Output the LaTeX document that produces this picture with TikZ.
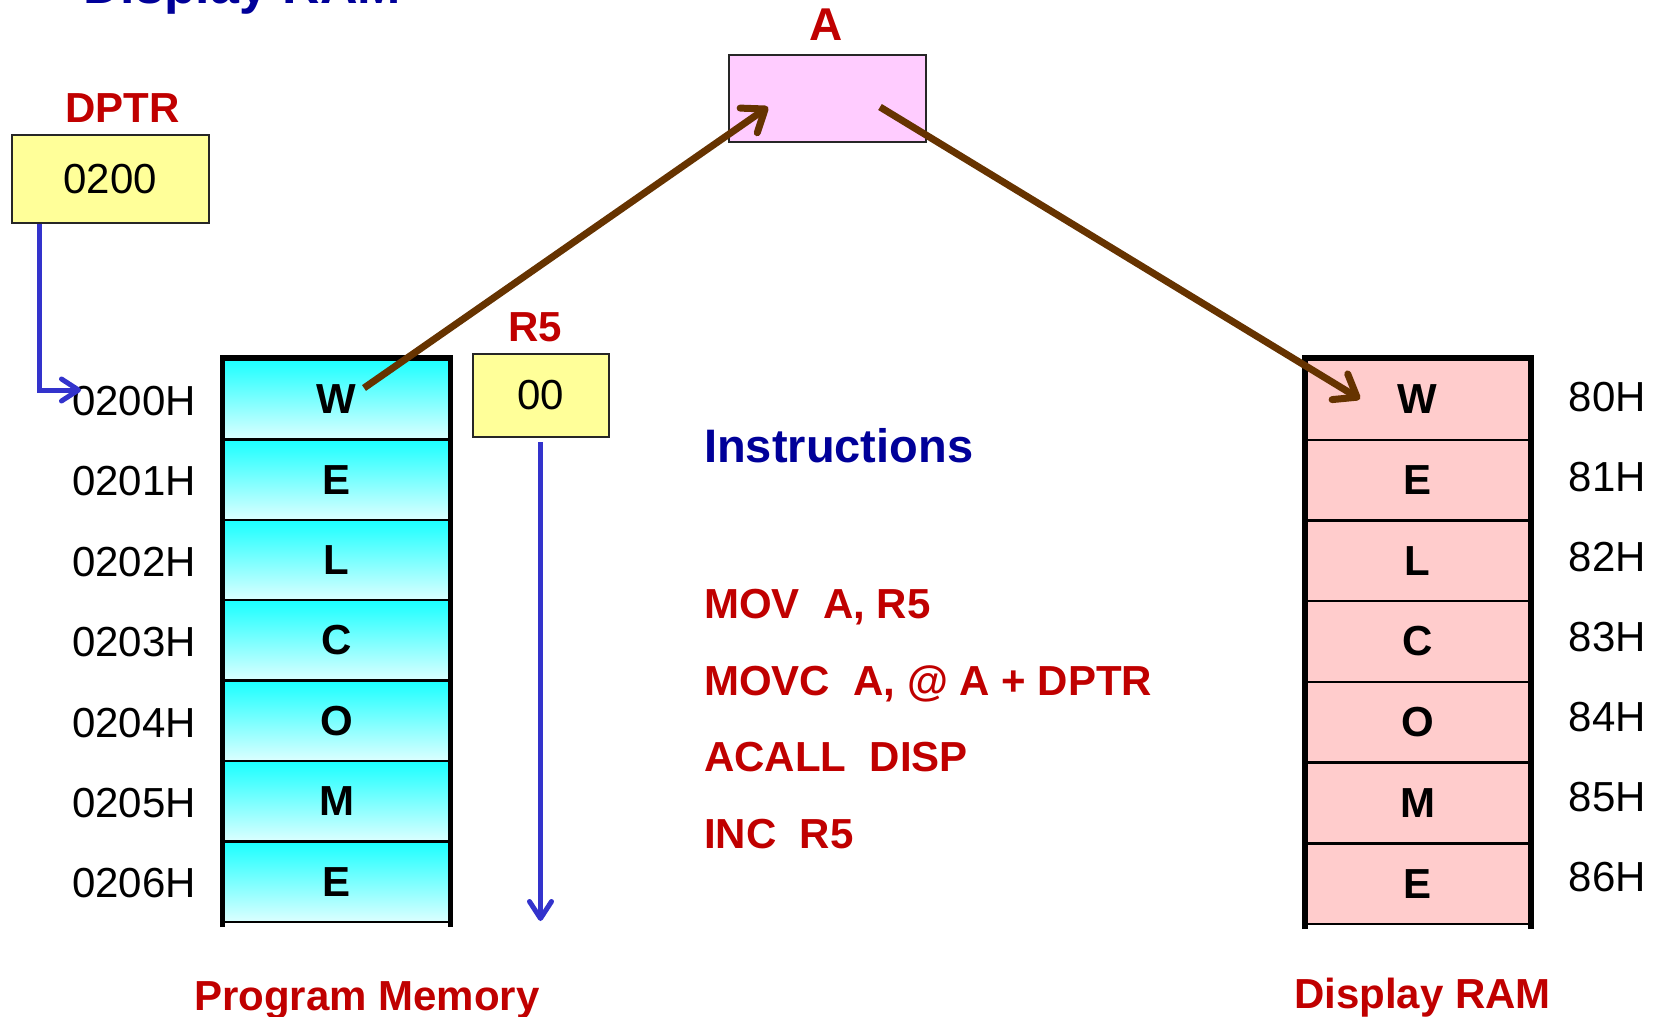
\documentclass[tikz,border=0pt]{standalone}
\usepackage{fontspec}
\setmainfont{Liberation Sans}
\usetikzlibrary{arrows.meta}
\definecolor{redtxt}{HTML}{C00000}
\definecolor{bluetxt}{HTML}{000099}
\definecolor{arrowblue}{HTML}{3333CC}
\definecolor{brownarr}{HTML}{663300}
\definecolor{cyantop}{HTML}{1AFFFF}
\definecolor{cyanbot}{HTML}{DCFFFF}
\definecolor{pinkA}{HTML}{FFCCFF}
\definecolor{yellowbox}{HTML}{FFFF99}
\definecolor{ramfill}{HTML}{FFCCCC}
\newcommand{\fsz}[1]{\fontsize{#1}{#1}\selectfont}
\begin{document}
\begin{tikzpicture}[x=1pt,y=-1pt,
  redlbl/.style={inner sep=0pt, text=redtxt, font=\fsz{42}\bfseries},
  bluelbl/.style={inner sep=0pt, text=bluetxt, font=\fsz{47}\bfseries},
  addr/.style={inner sep=0pt, font=\fsz{42}},
  regbox/.style={draw=black!85, line width=2pt, inner sep=0pt, font=\fsz{42}},
  pmcell/.style={draw=black, line width=2.5pt, top color=cyantop, bottom color=cyanbot,
    minimum width=225.8pt, minimum height=80.4pt, inner sep=0pt, font=\fsz{42}\bfseries},
  ramcell/.style={draw=black, line width=2.5pt, fill=ramfill,
    minimum width=223.5pt, minimum height=80.7pt, inner sep=0pt, font=\fsz{42}\bfseries},
  colframe/.style={line width=5.5pt, line join=miter},
  bluearr/.style={draw=arrowblue, line width=5pt, -{Straight Barb[length=17pt,width=22pt,round]}},
  brownarrow/.style={draw=brownarr, line width=7pt, -{Straight Barb[length=20pt,width=30pt,round]}}
]
\useasboundingbox (0,0) rectangle (1654,1017);

% partially cut title
\node[bluelbl, font=\fsz{52}\bfseries, anchor=base west] (title) at (83,3) {Display RAM};

% DPTR
\node[redlbl] (dptrlbl) at (122.5,108) {DPTR};
\node[regbox, fill=yellowbox, minimum width=197.4pt, minimum height=87.6pt] (dptr) at (110.3,179) {0200};

% A register
\node[redlbl, font=\fsz{46}\bfseries] (albl) at (826.5,25) {A};
\node[regbox, fill=pinkA, minimum width=197pt, minimum height=87pt] (areg) at (827.5,98.5) {};

% R5
\node[redlbl] (r5lbl) at (535,327) {R5};
\node[regbox, fill=yellowbox, minimum width=136pt, minimum height=83pt] (r5) at (540.5,395.5) {00};

% Program memory
\foreach \ch [count=\i from 0] in {W,E,L,C,O,M,E} {
  \node[pmcell] (pm\i) at (336.5,{399.2+80.4*\i}) {\ch};
  \node[addr, anchor=east] (pa\i) at (196,{401+80.4*\i}) {020\i H};
}
\draw[colframe] ([yshift=-4pt]pm6.south west) -- (pm0.north west) -- (pm0.north east) -- ([yshift=-4pt]pm6.south east);

% Display RAM
\foreach \ch [count=\i from 0] in {W,E,L,C,O,M,E} {
  \node[ramcell] (dr\i) at (1417.75,{399.4+80.7*\i}) {\ch};
  \node[addr, anchor=west] (da\i) at (1568.5,{397+80*\i}) {8\i H};
}
\draw[colframe] ([yshift=-4pt]dr6.south west) -- (dr0.north west) -- (dr0.north east) -- ([yshift=-4pt]dr6.south east);

% Instructions
\node[bluelbl, anchor=base west] (instr) at (704,462) {Instructions};
\node[redlbl, anchor=base west] (i1) at (704,618) {MOV\ \ A, R5};
\node[redlbl, anchor=base west] (i2) at (704,695) {MOVC\ \ A, @ A + DPTR};
\node[redlbl, anchor=base west] (i3) at (704,771) {ACALL\ \ DISP};
\node[redlbl, anchor=base west] (i4) at (704,848) {INC\ \ R5};

% Captions
\node[redlbl, anchor=base] (pmcap) at (367,1010) {Program Memory};
\node[redlbl, anchor=base] (drcap) at (1422.5,1008) {Display RAM};

% connectors
\coordinate (pmentry) at (81,390);
\draw[bluearr] ([xshift=28.4pt]dptr.south west) |- (pmentry);
\coordinate (r5end) at (540.5,921);
\draw[bluearr] ([yshift=-4pt]r5.south) -- (r5end);

\coordinate (wsrc) at (364,388);
\coordinate (ain) at (768,107);
\coordinate (aout) at (880,107);
\coordinate (wdst) at (1360,399);
\draw[brownarrow] (wsrc) -- (ain);
\draw[brownarrow] (aout) -- (wdst);
\end{tikzpicture}
\end{document}
